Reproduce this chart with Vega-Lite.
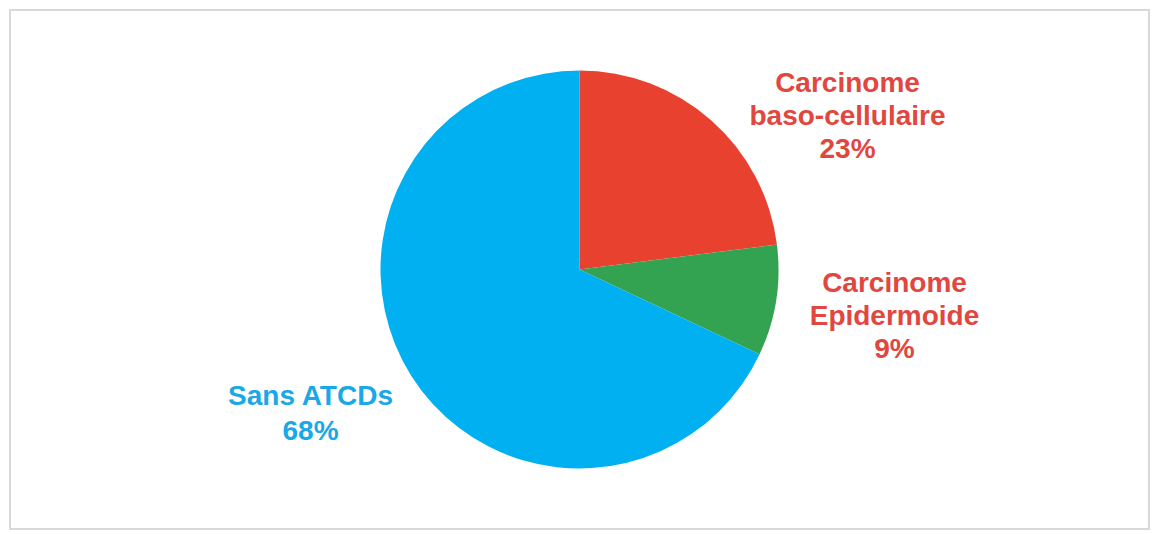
{
  "$schema": "https://vega.github.io/schema/vega-lite/v6.json",
  "autosize": {"type": "fit", "contains": "padding"},
  "width": 1152,
  "height": 534,
  "padding": {"left": 10, "top": 10, "right": 3, "bottom": 5},
  "background": "#ffffff",
  "view": {"stroke": "#d9d9d9", "strokeWidth": 2, "fill": "#ffffff"},
  "data": {
    "values": [
      {"cat": "Carcinome baso-cellulaire", "value": 23, "rank": 1, "label": "Carcinome\nbaso-cellulaire\n23%"},
      {"cat": "Carcinome Epidermoide", "value": 9, "rank": 2, "label": "Carcinome\nEpidermoide\n9%"},
      {"cat": "Sans ATCDs", "value": 68, "rank": 3, "label": "Sans ATCDs\n68%"}
    ]
  },
  "layer": [
    {
      "mark": {"type": "arc", "outerRadius": 199},
      "encoding": {
        "theta": {"field": "value", "type": "quantitative", "stack": true},
        "order": {"field": "rank", "type": "quantitative"},
        "color": {
          "field": "cat",
          "type": "nominal",
          "scale": {"domain": ["Carcinome baso-cellulaire", "Carcinome Epidermoide", "Sans ATCDs"], "range": ["#E8412F", "#33A352", "#00B0F0"]},
          "legend": null
        }
      }
    },
    {
      "transform": [{"filter": "datum.rank == 1"}],
      "mark": {"type": "text", "lineBreak": "\n", "font": "Liberation Sans", "fontWeight": "bold", "fontSize": 28, "lineHeight": 33, "align": "center", "baseline": "middle", "dx": 268, "dy": -186, "color": "#E1473E"},
      "encoding": {"text": {"field": "label"}}
    },
    {
      "transform": [{"filter": "datum.rank == 2"}],
      "mark": {"type": "text", "lineBreak": "\n", "font": "Liberation Sans", "fontWeight": "bold", "fontSize": 28, "lineHeight": 33, "align": "center", "baseline": "middle", "dx": 315, "dy": 14, "color": "#E1473E"},
      "encoding": {"text": {"field": "label"}}
    },
    {
      "transform": [{"filter": "datum.rank == 3"}],
      "mark": {"type": "text", "lineBreak": "\n", "font": "Liberation Sans", "fontWeight": "bold", "fontSize": 28, "lineHeight": 35, "align": "center", "baseline": "middle", "dx": -269, "dy": 127, "color": "#1AA8E6"},
      "encoding": {"text": {"field": "label"}}
    }
  ]
}
